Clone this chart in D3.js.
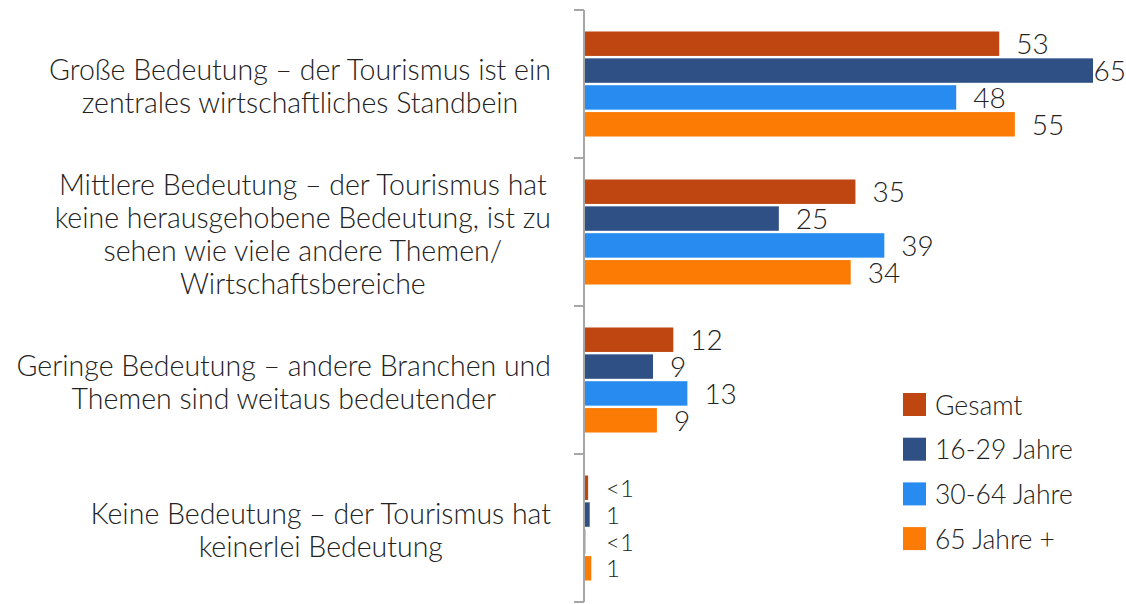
<!DOCTYPE html>
<html>
<head>
<meta charset="utf-8">
<script src="https://cdn.jsdelivr.net/npm/d3@7"></script>
<style>
  body { margin: 0; background: #fff; }
  text { font-family: Lato, "Open Sans", sans-serif; font-weight: 300; fill: #222; }
</style>
</head>
<body>
<svg width="1126" height="604"></svg>
<script>
// Data
var categories = ["gross", "mittel", "gering", "keine"];
var categoryLines = [
  ["Große Bedeutung – der Tourismus ist ein", "zentrales wirtschaftliches Standbein"],
  ["Mittlere Bedeutung – der Tourismus hat", "keine herausgehobene Bedeutung, ist zu", "sehen wie viele andere Themen/", "Wirtschaftsbereiche"],
  ["Geringe Bedeutung – andere Branchen und", "Themen sind weitaus bedeutender"],
  ["Keine Bedeutung – der Tourismus hat", "keinerlei Bedeutung"]
];
var series = ["Gesamt", "16-29 Jahre", "30-64 Jahre", "65 Jahre +"];
var colors = ["#BF4610", "#2E5084", "#278BEF", "#FB7B05"];
// values per series, in category order
var gesamt = [53, 34.6, 11.3, 0.4];
var jahre1629 = [65, 24.8, 8.7, 0.6];
var jahre3064 = [47.5, 38.3, 13.1, 0.1];
var jahre65 = [55, 34, 9.2, 0.8];
var labels = [
  ["53", "35", "12", "<1"],
  ["65", "25", "9", "1"],
  ["48", "39", "13", "<1"],
  ["55", "34", "9", "1"]
];
var values = [gesamt, jahre1629, jahre3064, jahre65];

var svg = d3.select("svg");
var width = +svg.attr("width");
var height = +svg.attr("height");

// Scales
var axisX = 584;
var x = d3.scaleLinear().domain([0, 65]).range([axisX + 1, 1093]);
var y0 = d3.scaleBand().domain(categories).range([10, 602]);
var y1 = d3.scaleBand().domain(series).range([0, y0.bandwidth()])
  .paddingInner(0.09).paddingOuter(0.8);
var color = d3.scaleOrdinal().domain(series).range(colors);

// Flatten rows
var rows = [];
categories.forEach(function(c, ci) {
  series.forEach(function(s, si) {
    rows.push({cat: c, ser: s, value: values[si][ci], label: labels[si][ci]});
  });
});

// Bars
svg.append("g")
  .selectAll("rect")
  .data(rows)
  .enter()
  .append("rect")
    .attr("x", x(0))
    .attr("y", function(d) { return y0(d.cat) + y1(d.ser); })
    .attr("width", function(d) { return x(d.value) - x(0); })
    .attr("height", y1.bandwidth())
    .attr("fill", function(d) { return color(d.ser); })
    .attr("fill-opacity", function(d) { return d.ser == "30-64 Jahre" && d.value < 0.5 ? 0.5 : 1; });

// Value labels
svg.append("g")
  .selectAll("text")
  .data(rows)
  .enter()
  .append("text")
    .attr("y", function(d) { return y0(d.cat) + y1(d.ser) + y1.bandwidth() / 2; })
    .attr("dy", "0.38em")
    .style("font-size", function(d) { return d.value < 1 ? "24px" : "28px"; })
    .text(function(d) { return d.label; })
    .attr("x", function(d) {
      var w = this.getComputedTextLength();
      var pos = d.value < 1 ? x(0) + 21 : x(d.value) + 17;
      return Math.min(pos, width - w);
    });

// Axis with ticks at category boundaries
var axis = svg.append("g");
axis.append("line")
  .attr("x1", axisX).attr("x2", axisX)
  .attr("y1", y0.range()[0]).attr("y2", y0.range()[1])
  .attr("stroke", "#a6a6a6").attr("stroke-width", 2);
var bounds = categories.map(function(c) { return y0(c); }).concat([y0.range()[1]]);
axis.selectAll(".tick")
  .data(bounds)
  .enter()
  .append("line")
    .attr("x1", axisX - 10).attr("x2", axisX)
    .attr("y1", function(d) { return d; })
    .attr("y2", function(d) { return d; })
    .attr("stroke", "#a6a6a6").attr("stroke-width", 2);

// Category labels: block right-aligned, lines centred
var rightEdge = 551;
var lineH = 33;
categories.forEach(function(c, ci) {
  var lines = categoryLines[ci];
  var g = svg.append("g");
  var cy = y0(c) + y0.bandwidth() / 2 + 2;
  var t = g.selectAll("text")
    .data(lines)
    .enter()
    .append("text")
      .style("font-size", "28.5px")
      .attr("text-anchor", "middle")
      .attr("y", function(d, i) { return cy + (i - (lines.length - 1) / 2) * lineH; })
      .attr("dy", "0.36em")
      .text(function(d) { return d; });
  var maxW = d3.max(t.nodes(), function(n) { return n.getComputedTextLength(); });
  t.attr("x", rightEdge - maxW / 2);
});

// Legend
var legend = svg.append("g").attr("transform", "translate(903,393)");
var item = legend.selectAll("g")
  .data(series)
  .enter()
  .append("g")
    .attr("transform", function(d, i) { return "translate(0," + (i * 44.7) + ")"; });
item.append("rect")
  .attr("width", 23).attr("height", 23)
  .attr("fill", function(d) { return color(d); });
item.append("text")
  .attr("x", 32).attr("y", 12)
  .attr("dy", "0.36em")
  .style("font-size", "26.5px")
  .text(function(d) { return d; });
</script>
</body>
</html>
